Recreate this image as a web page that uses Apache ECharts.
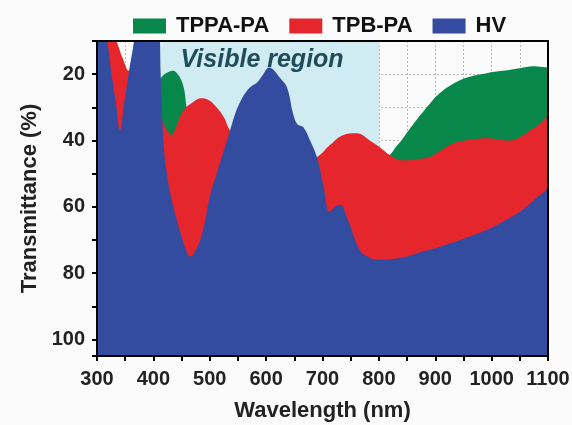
<!DOCTYPE html>
<html lang="en">
<head>
    <meta charset="UTF-8">
    <title>Transmittance</title>
    <script src="https://cdn.jsdelivr.net/npm/echarts@6/dist/echarts.min.js"></script>
</head>
<body style="margin:0;background:#fbfbfc">
<div id="chart" style="width:572px;height:425px"></div>
<script type="text/javascript">
    // data (wavelength nm / transmittance %)
    var hvWl = [300,312,318,325,333,341,348,356,363,368,380,395,405,410,413,416,419,423,430,440,450,458,465,472,483,492,500,514,525,536,545,555,566,575,584,595,605,612,624,637,648,655,666,678,690,701,713,722,731,745,766,780,796,820,850,873,900,931,960,991,1020,1050,1075,1100];
    var hvT  = [5,7,10,19,28,37,29,20,13,9,6,5,5,6,20,34,43,49,56,63,69,73,75,74,70,64,57,49,43,37,32,28,25,23.5,22.5,20,18,18.5,21,24,32,35,36,40,45,53,61.5,60,59.4,64,73,75,76,75.8,75,73.7,72.5,70.8,69,67,64.5,61.5,58,54.5];

    var tpbWl = [300,320,330,335,345,356,362,370,385,400,410,416,425,432,440,453,470,485,500,512,525,536,560,600,650,690,713,736,761,784,801,819,835,849,873,890,931,961,991,1032,1050,1068,1085,1100];
    var tpbT  = [5,7,9,10.3,15,19,15,9,6,10,25,34,37,38.4,36,31,28.5,27.3,28,30,33,37,42,46,47,45,41.4,38.4,37.8,40,42,44.4,45.8,46,45.5,45,41,39.8,39.3,40,39,37,35,32.4];

    var tppaWl = [300,400,408,412,416,425,435,443,450,455,458,462,470,500,600,700,760,800,819,830,840,855,873,890,903,931,961,991,1020,1050,1073,1100];
    var tppaT  = [60,60,40,22,20.6,19.5,19,20,22,25,29,34,42,50,58,55,50,46,44.4,42,40,36.5,32.5,29,26.5,23,20.8,19.7,19,18.2,17.6,18];

    var visibleRange = [400, 800];
    var xTicks = [300, 1100, 50];
    var yTicks = [10, 105, 10];

    function pairs(xs, ys) {
        var out = [];
        for (var i = 0; i < xs.length; i++) out.push([xs[i], ys[i]]);
        return out;
    }

    var myChart = echarts.init(document.getElementById('chart'));
    var font = 'Liberation Sans, Arial, sans-serif';

    function areaSeries(name, color, xs, ys) {
        return {
            name: name,
            type: 'line',
            z: 2,
            smooth: 0.4,
            showSymbol: false,
            symbol: 'none',
            color: color,
            lineStyle: {width: 0},
            areaStyle: {color: color, opacity: 1, origin: 'end'},
            data: pairs(xs, ys)
        };
    }

    var option = {
        backgroundColor: '#fbfbfc',
        animation: false,
        legend: {
            left: 128, top: 10,
            icon: 'rect',
            itemWidth: 33, itemHeight: 15, itemGap: 20,
            textStyle: {fontFamily: font, fontWeight: 'bold', fontSize: 22, color: '#111', padding: [0, 0, 0, 5]},
            data: ['TPPA-PA', 'TPB-PA', 'HV']
        },
        grid: {left: 97, right: 24, top: 41, bottom: 69, outerBoundsMode: 'none'},
        xAxis: [
            {   // grid lines
                type: 'value', min: xTicks[0], max: xTicks[1], interval: xTicks[2], z: 1,
                axisLine: {show: false}, axisTick: {show: false}, axisLabel: {show: false},
                splitLine: {show: true, lineStyle: {color: '#b8b8b8', type: [2, 2], width: 1}}
            },
            {   // bottom axis
                type: 'value', min: xTicks[0], max: xTicks[1], interval: xTicks[2], z: 6, position: 'bottom',
                axisLine: {show: true, lineStyle: {color: '#000', width: 2}},
                axisTick: {show: true, length: 5, lineStyle: {color: '#000', width: 2}},
                axisLabel: {
                    interval: 0, margin: 13, color: '#222', fontFamily: font, fontWeight: 'bold', fontSize: 20,
                    formatter: function (v) { return v % 100 === 0 ? String(v) : ''; }
                },
                splitLine: {show: false},
                name: 'Wavelength (nm)', nameLocation: 'middle', nameGap: 44,
                nameTextStyle: {color: '#222', fontFamily: font, fontWeight: 'bold', fontSize: 22}
            },
            {   // top frame
                type: 'value', min: xTicks[0], max: xTicks[1], z: 6, position: 'top',
                axisLine: {show: true, lineStyle: {color: '#000', width: 2}},
                axisTick: {show: false}, axisLabel: {show: false}, splitLine: {show: false}
            }
        ],
        yAxis: [
            {
                type: 'value', inverse: true, min: yTicks[0], max: yTicks[1], interval: yTicks[2], z: 1,
                axisLine: {show: false}, axisTick: {show: false}, axisLabel: {show: false},
                splitLine: {show: true, lineStyle: {color: '#b8b8b8', type: [2, 2], width: 1}}
            },
            {
                type: 'value', inverse: true, min: yTicks[0], max: yTicks[1], interval: yTicks[2], z: 6, position: 'left',
                axisLine: {show: true, lineStyle: {color: '#000', width: 2}},
                axisTick: {show: true, length: 5, lineStyle: {color: '#000', width: 2}},
                axisLabel: {
                    margin: 12, color: '#222', fontFamily: font, fontWeight: 'bold', fontSize: 20,
                    formatter: function (v) { return v % 20 === 0 ? String(v) : ''; }
                },
                splitLine: {show: false},
                name: 'Transmittance (%)', nameLocation: 'middle', nameGap: 48,
                nameTextStyle: {color: '#222', fontFamily: font, fontWeight: 'bold', fontSize: 22}
            },
            {
                type: 'value', inverse: true, min: yTicks[0], max: yTicks[1], z: 6, position: 'right',
                axisLine: {show: true, lineStyle: {color: '#000', width: 2}},
                axisTick: {show: false}, axisLabel: {show: false}, splitLine: {show: false}
            }
        ],
        series: [
            {   // visible region background
                type: 'line', z: 0, data: [], silent: true,
                markArea: {
                    silent: true,
                    itemStyle: {color: '#cbe9f1'},
                    data: [[{xAxis: visibleRange[0]}, {xAxis: visibleRange[1]}]]
                }
            },
            areaSeries('TPPA-PA', '#07884a', tppaWl, tppaT),
            areaSeries('TPB-PA', '#e5262c', tpbWl, tpbT),
            areaSeries('HV', '#344c9f', hvWl, hvT),
            {   // light wash over the visible region + label
                type: 'line', z: 4, data: [], silent: true,
                markArea: {
                    silent: true,
                    itemStyle: {color: 'rgba(255,255,255,0.12)'},
                    label: {
                        show: true, position: 'insideTop', distance: 7, offset: [-4, 0],
                        color: '#1e4c58', fontFamily: font, fontStyle: 'italic', fontWeight: 'bold', fontSize: 25,
                        formatter: 'Visible region'
                    },
                    data: [[{xAxis: visibleRange[0]}, {xAxis: visibleRange[1]}]]
                }
            }
        ]
    };
    myChart.setOption(option);
</script>
</body>
</html>
